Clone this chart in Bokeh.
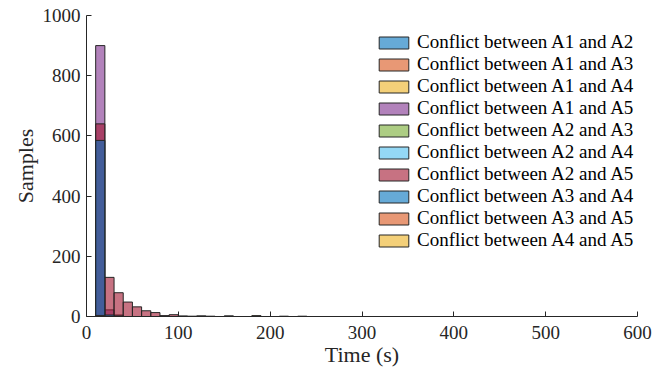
from bokeh.plotting import figure
from bokeh.models import Range1d, FixedTicker, Legend, LegendItem
from bokeh.embed import file_html
from bokeh.resources import INLINE

# Histogram bins (seconds): 10-wide bins starting at 10 s
bin_left = [10, 20, 30, 40, 50, 60, 70, 80, 90, 100, 110, 120, 130, 140, 150, 160, 170, 180, 190, 200, 210, 220, 230]
bin_width = 10

series_names = [
    "Conflict between A1 and A2",
    "Conflict between A1 and A3",
    "Conflict between A1 and A4",
    "Conflict between A1 and A5",
    "Conflict between A2 and A3",
    "Conflict between A2 and A4",
    "Conflict between A2 and A5",
    "Conflict between A3 and A4",
    "Conflict between A3 and A5",
    "Conflict between A4 and A5",
]

a1_a2 = [4, 2, 0, 0, 0, 0, 0, 0, 0, 0, 0, 0, 0, 0, 0, 0, 0, 0, 0, 0, 0, 0, 0]
a1_a3 = [3, 1, 0, 0, 0, 0, 0, 0, 0, 0, 0, 0, 0, 0, 0, 0, 0, 0, 0, 0, 0, 0, 0]
a1_a4 = [0, 0, 0, 0, 0, 0, 0, 0, 0, 0, 0, 0, 1, 0, 1, 0, 0, 0, 0, 0, 0, 0, 0]
a1_a5 = [900, 22, 5, 0, 0, 0, 0, 0, 0, 0, 0, 0, 0, 0, 0, 0, 0, 0, 0, 0, 0, 0, 0]
a2_a3 = [0, 0, 0, 0, 0, 0, 0, 0, 0, 0, 0, 0, 0, 0, 0, 0, 0, 0, 0, 0, 1, 0, 1]
a2_a4 = [0, 0, 0, 0, 0, 0, 0, 0, 0, 0, 0, 1, 0, 0, 0, 0, 0, 0, 0, 0, 0, 0, 0]
a2_a5 = [640, 130, 79, 48, 32, 19, 13, 3, 6, 2, 1, 0, 0, 0, 0, 0, 0, 0, 0, 0, 0, 0, 0]
a3_a4 = [585, 5, 2, 0, 0, 0, 0, 0, 0, 0, 0, 0, 0, 0, 0, 0, 0, 0, 0, 0, 0, 0, 0]
a3_a5 = [3, 0, 0, 0, 0, 0, 0, 0, 0, 0, 0, 0, 0, 0, 0, 0, 0, 0, 0, 0, 0, 0, 0]
a4_a5 = [0, 0, 0, 0, 0, 0, 0, 0, 0, 0, 0, 2, 0, 0, 2, 0, 0, 3, 0, 0, 0, 0, 0]

series_counts = [a1_a2, a1_a3, a1_a4, a1_a5, a2_a3, a2_a4, a2_a5, a3_a4, a3_a5, a4_a5]

colors = ["#0072BD", "#D95319", "#EDB120", "#7E2F8E", "#77AC30",
          "#4DBEEE", "#A2142F", "#0072BD", "#D95319", "#EDB120"]

x_ticks = [0, 100, 200, 300, 400, 500, 600]
y_ticks = [0, 200, 400, 600, 800, 1000]

FONT = "Liberation Serif"

p = figure(width=669, height=377, output_backend="svg", toolbar_location=None,
           x_range=Range1d(0, 600), y_range=Range1d(0, 1000),
           min_border_left=86, min_border_right=32, min_border_top=15, min_border_bottom=61)

items = []
for name, counts, col in zip(series_names, series_counts, colors):
    lefts = [b for b, c in zip(bin_left, counts) if c > 0]
    rights = [b + bin_width for b, c in zip(bin_left, counts) if c > 0]
    tops = [c for c in counts if c > 0]
    bottoms = [0] * len(tops)
    r = p.quad(left=lefts, right=rights, top=tops, bottom=bottoms,
               fill_color=col, fill_alpha=0.6, line_color="#262626", line_width=1)
    items.append(LegendItem(label=name, renderers=[r]))

legend = Legend(items=items, location=(289, 65), orientation="vertical")
legend.label_text_font = FONT
legend.label_text_font_size = "19px"
legend.label_text_color = "#000000"
legend.glyph_width = 37
legend.glyph_height = 15
legend.label_height = 22
legend.spacing = 0
legend.padding = 0
legend.margin = 0
legend.label_standoff = 5
legend.border_line_color = None
legend.background_fill_alpha = 0
p.add_layout(legend, "center")

p.grid.visible = False
p.outline_line_color = None
p.background_fill_color = "white"
p.border_fill_color = "white"

for ax, ticks in ((p.xaxis[0], x_ticks), (p.yaxis[0], y_ticks)):
    ax.ticker = FixedTicker(ticks=ticks)
    ax.major_tick_in = 5
    ax.major_tick_out = 0
    ax.minor_tick_line_color = None
    ax.axis_line_color = "#262626"
    ax.major_tick_line_color = "#262626"
    ax.major_label_text_font = FONT
    ax.major_label_text_font_size = "19px"
    ax.major_label_text_color = "#262626"
    ax.axis_label_text_font = FONT
    ax.axis_label_text_font_size = "22px"
    ax.axis_label_text_font_style = "normal"
    ax.axis_label_text_color = "#262626"

p.xaxis.axis_label = "Time (s)"
p.yaxis.axis_label = "Samples"
p.xaxis.major_label_standoff = 9
p.yaxis.major_label_standoff = 6
p.xaxis.axis_label_standoff = 0
p.yaxis.axis_label_standoff = 2

open("out.html", "w").write(file_html(p, INLINE))
